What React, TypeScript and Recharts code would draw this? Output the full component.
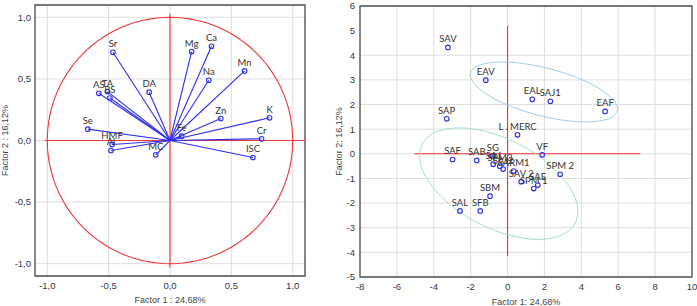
import React from "react";
import {
  ScatterChart,
  Scatter,
  XAxis,
  YAxis,
  CartesianGrid,
  ReferenceLine,
  ReferenceArea,
  Label,
} from "recharts";

// loadings (left panel)
const loadingNames = ["Sr", "Mg", "Ca", "Mn", "Na", "DA", "AS", "TA", "BS", "Zn", "K", "Se", "Fe", "Cr", "HMF", "Al", "MC", "ISC"];
const loadingF1 = [-0.465, 0.176, 0.338, 0.608, 0.316, -0.17, -0.58, -0.51, -0.49, 0.414, 0.811, -0.67, 0.095, 0.746, -0.472, -0.481, -0.116, 0.676];
const loadingF2 = [0.716, 0.722, 0.765, 0.565, 0.489, 0.392, 0.383, 0.397, 0.345, 0.178, 0.184, 0.092, 0.035, 0.014, -0.032, -0.081, -0.116, -0.138];

// scores (right panel)
const scoreNames = ["SAV", "EAV", "EAL", "SAJ1", "EAF", "SAP", "L . MERC", "VF", "SPM 2", "SAF", "SAB", "SG", "SAJ", "SPM3", "SAJ2", "SARM1", "SAV 2", "SAE", "SPM 1", "SBM", "SAL", "SFB"];
const scoreF1 = [-3.23, -1.18, 1.34, 2.32, 5.29, -3.3, 0.54, 1.88, 2.85, -2.98, -1.67, -0.8, -0.78, -0.42, -0.24, 0.33, 0.74, 1.64, 1.42, -0.95, -2.58, -1.48];
const scoreF2 = [4.32, 2.99, 2.21, 2.13, 1.72, 1.42, 0.77, -0.04, -0.83, -0.23, -0.27, -0.08, -0.42, -0.5, -0.62, -0.7, -1.13, -1.27, -1.41, -1.72, -2.32, -2.32];

const loadTicks = [-1, -0.5, 0, 0.5, 1];
const scoreXTicks = [-8, -6, -4, -2, 0, 2, 4, 6, 8, 10];
const scoreYTicks = [-5, -4, -3, -2, -1, 0, 1, 2, 3, 4, 5, 6];

// ellipses: centre, first and second semi-axis vectors
const ellipseTop = [1.97, 2.51, 3.99, -0.69, 0, 1.0];
const ellipseBottom = [-0.48, -1.21, 4.29, -1.13, 0, 1.96];

const loadings = loadingNames.map((name, i) => ({ name, x: loadingF1[i], y: loadingF2[i] }));
const scores = scoreNames.map((name, i) => ({ name, x: scoreF1[i], y: scoreF2[i] }));

function ring(p: number[]) {
  const [cx, cy, ux, uy, vx, vy] = p;
  const pts = [];
  for (let i = 0; i <= 120; i++) {
    const t = (i / 120) * 2 * Math.PI;
    pts.push({ x: cx + ux * Math.cos(t) + vx * Math.sin(t), y: cy + uy * Math.cos(t) + vy * Math.sin(t) });
  }
  return pts;
}

const unitCircle = ring([0, 0, 1, 0, 0, 1]);

const BLUE = "#2f2ff0";
const RED = "#ee3535";
const tickStyle = { fontSize: 9.5, fill: "#34344a", fontFamily: "Liberation Sans" };

const noShape = () => <g />;

const Marker = (props: any) => {
  const { cx, cy, payload } = props;
  return (
    <g>
      <circle cx={cx} cy={cy} r={2.3} fill="none" stroke={BLUE} strokeWidth={1.1} />
      <text x={cx} y={cy - 5} textAnchor="middle" fontSize={9.5} fontFamily="Lato" fill="#333">
        {payload.name}
      </text>
    </g>
  );
};

const comma = (v: number) => v.toFixed(1).replace(".", ",");

function xTitle(text: string, dy: number) {
  return (props: any) => {
    const vb = props.viewBox;
    return (
      <text x={vb.x + vb.width / 2} y={vb.y + dy} textAnchor="middle" dominantBaseline="central" fontSize={9} fill="#444" fontFamily="Liberation Sans">
        {text}
      </text>
    );
  };
}

function yTitle(text: string, dx: number) {
  return (props: any) => {
    const vb = props.viewBox;
    const cx = vb.x + dx;
    const cy = vb.y + vb.height / 2;
    return (
      <text x={cx} y={cy} transform={`rotate(-90 ${cx} ${cy})`} textAnchor="middle" dominantBaseline="central" fontSize={9} fill="#444" fontFamily="Liberation Sans">
        {text}
      </text>
    );
  };
}

function LoadingPlot() {
  return (
    <ScatterChart width={320} height={306} margin={{ top: 5, right: 15, bottom: 0, left: 0 }}>
      <CartesianGrid stroke="#dedede" />
      <XAxis type="number" dataKey="x" domain={[-1.1, 1.1]} ticks={loadTicks} allowDataOverflow tickFormatter={comma}
        tick={tickStyle} tickLine={false} axisLine={false} tickSize={4} tickMargin={2} height={30}>
        <Label content={xTitle("Factor 1 : 24,68%", 24)} />
      </XAxis>
      <YAxis type="number" dataKey="y" domain={[-1.1, 1.1]} ticks={loadTicks} allowDataOverflow tickFormatter={comma}
        tick={tickStyle} tickLine={false} axisLine={false} tickSize={2} tickMargin={2} width={35}>
        <Label content={yTitle("Factor 2 : 16,12%", 5)} />
      </YAxis>
      <ReferenceArea x1={-1.1} x2={1.1} y1={-1.1} y2={1.1} fill="none" stroke="#505050" strokeWidth={1.3} ifOverflow="visible" />
      <ReferenceLine segment={[{ x: -1.02, y: 0 }, { x: 1.1, y: 0 }]} stroke={RED} strokeWidth={1.1} />
      <ReferenceLine segment={[{ x: 0, y: -1.03 }, { x: 0, y: 1.03 }]} stroke={RED} strokeWidth={1.1} />
      <Scatter data={unitCircle} shape={noShape} line={{ stroke: RED, strokeWidth: 1.1 }} lineType="joint" isAnimationActive={false} />
      {loadings.map((d) => (
        <ReferenceLine key={d.name} segment={[{ x: 0, y: 0 }, { x: d.x, y: d.y }]} stroke={BLUE} strokeWidth={1.1} />
      ))}
      <Scatter data={loadings} shape={Marker} isAnimationActive={false} />
    </ScatterChart>
  );
}

function ScorePlot() {
  return (
    <ScatterChart width={367} height={306} margin={{ top: 6, right: 5, bottom: 0, left: 0 }}>
      <CartesianGrid stroke="#dedede" />
      <XAxis type="number" dataKey="x" domain={[-8, 10]} ticks={scoreXTicks} allowDataOverflow
        tick={tickStyle} tickLine={false} axisLine={false} tickSize={4} tickMargin={2} height={29}>
        <Label content={xTitle("Factor 1: 24,68%", 24.5)} />
      </XAxis>
      <YAxis type="number" dataKey="y" domain={[-5, 6]} ticks={scoreYTicks} allowDataOverflow
        tick={tickStyle} tickLine={false} axisLine={false} tickSize={2} tickMargin={3} width={30}>
        <Label content={yTitle("Factor 2: 16,12%", 9)} />
      </YAxis>
      <ReferenceArea x1={-8} x2={10} y1={-5} y2={6} fill="none" stroke="#505050" strokeWidth={1.3} ifOverflow="visible" />
      <ReferenceLine segment={[{ x: -5.05, y: 0 }, { x: 7.2, y: 0 }]} stroke={RED} strokeWidth={1.1} />
      <ReferenceLine segment={[{ x: 0, y: -4.15 }, { x: 0, y: 5.2 }]} stroke={RED} strokeWidth={1.1} />
      <Scatter data={ring(ellipseTop)} shape={noShape} line={{ stroke: "#9fcbe6", strokeWidth: 1 }} lineType="joint" isAnimationActive={false} />
      <Scatter data={ring(ellipseBottom)} shape={noShape} line={{ stroke: "#a5e0c4", strokeWidth: 1 }} lineType="joint" isAnimationActive={false} />
      <Scatter data={scores} shape={Marker} isAnimationActive={false} />
    </ScatterChart>
  );
}

export default function App() {
  return (
    <div style={{ position: "absolute", left: 0, top: 0, width: 697, height: 306, background: "#fff", fontFamily: "Liberation Sans" }}>
      <div style={{ position: "absolute", left: 0, top: 0 }}>
        <LoadingPlot />
      </div>
      <div style={{ position: "absolute", left: 330, top: 0 }}>
        <ScorePlot />
      </div>
    </div>
  );
}
